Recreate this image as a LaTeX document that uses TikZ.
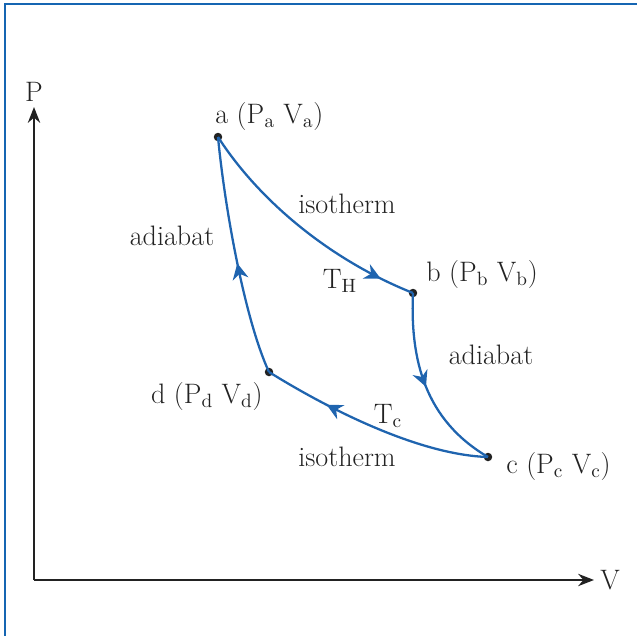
\documentclass[tikz,border=0pt]{standalone}
\usetikzlibrary{positioning, arrows.meta, decorations.markings}
\definecolor{cyblue}{HTML}{1F64AF}
\definecolor{cyframe}{HTML}{1565B2}
\definecolor{cyink}{HTML}{222222}

\begin{document}
\begin{tikzpicture}[x=0.02cm, y=-0.02cm, font=\fontsize{16}{19}\selectfont, text=cyink,
    pt/.style={circle, fill=cyink, inner sep=0pt, minimum size=0.17cm},
    lbl/.style={inner sep=0pt},
    cyc/.style={cyblue, line width=1.3pt},
    mid/.style={postaction={decorate, decoration={markings,
        mark=at position #1 with {\arrow{Stealth[length=9pt, width=9pt]}}}}},
    axis/.style={cyink, line width=1.1pt, -{Stealth[length=9pt, width=7pt]}}]
    \useasboundingbox (0,0) rectangle (637,636);
    \draw[cyframe, line width=1.7pt] (5,636) -- (5,4) -- (637,4);

    % axes
    \coordinate (o)    at (34,580);
    \coordinate (ptop) at (34,107);
    \coordinate (vend) at (594,580);
    \draw[axis] (o) -- (ptop);
    \draw[axis] (o) -- (vend);
    \node[lbl] (plab) at (34,92)  {P};
    \node[lbl] (vlab) at (610,580) {V};

    % states
    \node[pt] (a) at (218,137) {};
    \node[pt] (b) at (413,293) {};
    \node[pt] (c) at (488,457) {};
    \node[pt] (d) at (269,372) {};

    % cycle
    \draw[cyc, mid=0.86] (a.center) .. controls (262,205) and (335,262) .. (b.center);
    \draw[cyc, mid=0.5]  (b.center) .. controls (410,360) and (425,420) .. (c.center);
    \draw[cyc, mid=0.72] (c.center) .. controls (420,455) and (330,410) .. (d.center);
    \draw[cyc, mid=0.47] (d.center) .. controls (245,320) and (225,210) .. (a.center);

    % labels
    \node[lbl, anchor=west] (alab) at (215,116) {a (P$_{\mathrm{a}}$ V$_{\mathrm{a}}$)};
    \node[lbl, anchor=west] (blab) at (426,274) {b (P$_{\mathrm{b}}$ V$_{\mathrm{b}}$)};
    \node[lbl, anchor=west] (clab) at (506,466) {c (P$_{\mathrm{c}}$ V$_{\mathrm{c}}$)};
    \node[lbl, anchor=east] (dlab) at (263,396) {d (P$_{\mathrm{d}}$ V$_{\mathrm{d}}$)};
    \node[lbl] (iso1) at (347,204) {isotherm};
    \node[lbl] (iso2) at (347,457) {isotherm};
    \node[lbl] (adi1) at (172,236) {adiabat};
    \node[lbl] (adi2) at (491,355) {adiabat};
    \node[lbl] (th) at (340,281) {T$_{\mathrm{H}}$};
    \node[lbl] (tc) at (388,416) {T$_{\mathrm{c}}$};
\end{tikzpicture}
\end{document}
